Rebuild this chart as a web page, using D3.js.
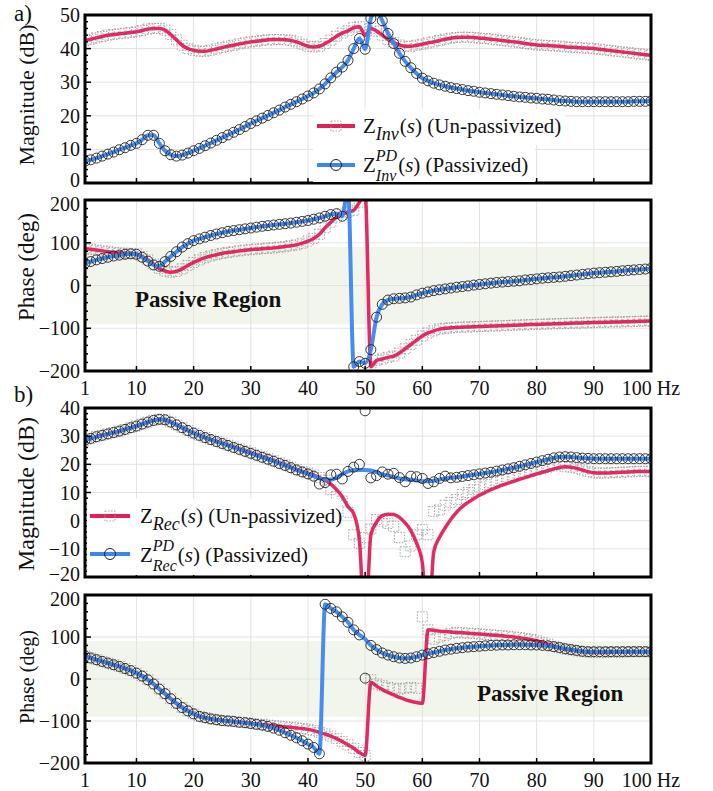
<!DOCTYPE html>
<html>
<head>
<meta charset="utf-8">
<script src="https://cdn.jsdelivr.net/npm/d3@7"></script>
<style>
  body { margin: 0; background: #fff; }
  text { fill: #111; }
</style>
</head>
<body>
<svg id="chart" width="713" height="791"></svg>
<script>
// frequency grid (Hz) and axis ticks
const freqs = d3.range(1, 101);
const xTicks = [1, 10, 20, 30, 40, 50, 60, 70, 80, 90, 100];
const xTickLabels = ["1", "10", "20", "30", "40", "50", "60", "70", "80", "90", "100 Hz"];
const magTicksA = [0, 10, 20, 30, 40, 50];
const magTicksB = [-20, -10, 0, 10, 20, 30, 40];
const phaseTicks = [-200, -100, 0, 100, 200];

// a) inverter impedance, magnitude (dB)
const magRedA = [42.4,42.8,43.2,43.6,44,44.2,44.4,44.6,44.8,45,
  45.4,45.8,46,46,45.5,44.2,42.6,41,40,39.5,
  39.2,39.2,39.5,39.9,40.3,40.7,41,41.4,41.7,42,
  42.2,42.4,42.6,42.7,42.7,42.6,42.4,42,41.3,40.7,
  40.5,40.7,41.5,42.5,43.7,44.6,45.3,46.2,46.5,44,
  46,45.2,44,42.7,41.8,41.1,40.7,40.7,41,41.3,
  41.7,42,42.4,42.8,43.1,43.3,43.4,43.4,43.3,43.1,
  43,42.8,42.6,42.4,42.2,42,41.8,41.5,41.3,41.1,
  41,40.9,40.8,40.7,40.5,40.4,40.3,40.2,40.1,40,
  39.8,39.6,39.4,39.2,39,38.8,38.6,38.4,38.2,38];
const magBlueA = [6.5,6.9,7.4,8,8.6,9.2,9.9,10.5,11.2,11.8,
  12.9,14.2,14.2,11.8,9.6,8.4,8,8.3,8.9,9.6,
  10.3,11.1,11.9,12.7,13.5,14.3,15.1,15.9,16.8,17.7,
  18.5,19.3,20.1,20.9,21.7,22.6,23.4,24.2,25,25.9,
  26.8,28,29.5,31.3,33,34.5,36.5,40,43,39.8,
  49,51.5,48.3,44.5,41.5,38.6,36.2,34.3,32.6,31.2,
  30.4,29.7,29.2,28.8,28.4,28.1,27.8,27.5,27.3,27,
  26.8,26.6,26.4,26.2,26,25.8,25.6,25.5,25.3,25.2,
  25,24.9,24.7,24.5,24.4,24.3,24.2,24.2,24.2,24.2,
  24.2,24.2,24.2,24.2,24.2,24.2,24.3,24.3,24.3,24.4];

// a) inverter impedance, phase (deg)
const phRedA = [86,85,83,81,79,77,76,75.5,75,74,
  68,60,50,40,34,31,33,39,47,54,
  60,65,69,72,75,77,79,81,82.5,84,
  85,86,87,88,89.5,91,93,95,99,104,
  110,120,135,148,160,167,172,176,195,215,
  -190,-175,-172,-168,-165,-158,-148,-138,-128,-118,
  -111,-106,-102,-100,-99,-98,-97.5,-97,-96.5,-96,
  -95.5,-95,-94.5,-94,-93.5,-93,-92.5,-92,-91.5,-91,
  -90.5,-90,-89.6,-89.2,-88.8,-88.4,-88,-87.6,-87.2,-86.8,
  -86.4,-86,-85.6,-85.3,-85,-84.6,-84.2,-83.8,-83.4,-83];
const phBlueA = [52,56,60,63,66,69,71,73,74,73,
  66,57,48,45,56,68,79,90,98,105,
  109,113,117,120.5,123.5,126.5,128.5,130.5,132.5,134.5,
  136.5,138.5,140,141.5,143,144.5,146,148,150,152,
  155,158,162,166,168,162,230,-190,-178,-182,
  -150,-74,-44,-34,-31,-30,-29,-27,-22,-18,
  -15,-12,-10,-8,-6,-4,-2.5,-1,1,2.5,
  4,5.5,7,8,9,10,11,13,14,15.5,
  17,18,19,20,21.5,23,24.5,26,27.5,29,
  30,31,32,33,34.5,35.5,36.5,37.5,38.5,40];

// b) rectifier impedance, magnitude (dB)
const magRedB = [28.6,29.2,29.8,30.3,30.8,31.3,31.8,32.4,33,33.6,
  34.3,35,35.6,36,35.8,35,34,33,32,31.1,
  30.3,29.5,28.8,28.2,27.5,26.8,26.2,25.5,24.8,24.1,
  23.4,22.7,22,21.3,20.5,19.8,19,18.2,17.5,16.9,
  16.2,15.3,14.4,13,11,8.5,5,2.5,-7,-40,
  -5,-0.5,1.8,2.3,2.2,1.2,-0.8,-3.5,-8,-15,
  -40,-11,-6,-2.5,0.5,3,5,6.5,7.8,9,
  10,11,11.8,12.6,13.3,14,14.7,15.3,16,16.6,
  17.2,17.8,18.4,18.9,19.1,19,18.6,18,17.4,17,
  16.9,16.9,17,17.1,17.2,17.3,17.4,17.5,17.5,17.5];
const magBlueB = [28.6,29.2,29.8,30.3,30.8,31.3,31.8,32.4,33,33.6,
  34.3,35,35.6,36,35.8,35,34,33,32,31.1,
  30.3,29.5,28.8,28.1,27.4,26.7,26,25.3,24.6,23.9,
  23.2,22.5,21.8,21.1,20.3,19.6,18.8,18,17.3,16.6,
  15.8,15,14.5,14.5,15.3,16.5,17.5,18,18,18,
  17.8,17.2,16.5,16,15.5,15,14.7,14.5,14.3,14,
  14,14.2,14.6,15,15.2,15.4,15.7,16,16.3,16.6,
  16.9,17.2,17.6,18,18.4,18.8,19.3,19.8,20.3,20.8,
  21.3,21.8,22.3,22.6,22.7,22.6,22.4,22.2,22.1,22,
  22,22,22,22,22,22,22,22,22,22];
// measured points that leave the fitted curves, [Hz, value]
const sqFixMagB = [[44,11],[45,8.6],[46,7],[47,3],[48,-5],[49,-8],[50,-6],[51,-3],[52,0.4],[53,-0.2],
  [54,-1],[55,-2],[56,-6],[57,-11],[58,-9],[59,-5],[60,-3.2],[61,-5],[62,3.3],[63,3.8],[64,5.5],
  [65,6.5],[66,7.5],[67,9.3],[68,10],[69,11],[70,12],[71,12.8],[72,13.5],[73,14.2],[74,14.8],
  [75,15.4],[76,16],[77,16.5],[78,17],[79,17.5],[80,18],[81,18.5],[82,19],[83,19.5],[84,20]];
const circFixMagB = [[42,13],[43,13.5],[44,16.3],[45,16.5],[46,14.8],[47,17.5],[48,19],[49,20],
  [50,39],[51,15.2],[52,16],[53,17.3],[54,16.5],[55,16.8],[56,15.3],[57,13.8],[58,15.8],
  [59,15.6],[60,15],[61,13.2],[62,13.8],[63,15],[64,15.8]];

// b) rectifier impedance, phase (deg)
const phRedB = [55,50,46,42,38,34,30,25,20,14,
  7,-2,-12,-24,-35,-47,-58,-68,-76,-83,
  -89,-92,-95,-97,-99,-100,-101.5,-103,-104,-105.5,
  -107,-108.5,-110,-111,-112.5,-114,-115,-116.5,-118,-120,
  -123,-127,-131,-136,-142,-149,-157,-165,-175,-182,
  -8,-17,-25,-32,-38,-44,-49,-53,-56,-58,
  117,116,114,113,112,111,110,109,108,107,
  106,105,104,103,101.5,100,98.5,96.5,94,91,
  87,83,78,74,71,69,67,65,64,63,
  63,63,64,64,64,65,65,65,65,65];
const phBlueB = [55,50,46,42,38,34,30,25,20,14,
  7,-2,-12,-24,-35,-47,-58,-68,-76,-83,
  -89,-92,-95,-97,-99,-100,-101,-103,-104,-106,
  -108,-110,-113,-117,-122,-128,-134,-140,-147,-155,
  -163,-178,178,168,160,148,135,117,105,95,
  80,70,62,57,53,50,49,50,53,57,
  60,63,66,69,71,73,74.5,76,77,78,
  79,80,80.5,81,81,81.5,81.5,81.5,81,81,
  80,79,77,75,72,70,68,66,65,65,
  65,65,65,65,65,65,65,65,65,65];
const sqFixPhB = [[51,-2],[52,-12],[53,-16],[54,-20],[55,-22],[56,-24],[57,-22],[58,-20],[59,-22],
  [60,148],[62,95],[63,100],[64,104],[65,108]];
const circFixPhB = [[50,2]];

const RED = "#e01f5b", BLUE = "#3d86ee";

const svg = d3.select("#chart").attr("font-family", '"Liberation Serif", "Times New Roman", serif');
const x = d3.scaleLinear().domain([1, 100]).range([85, 651]);

function withFixes(base, fixes) {
  const m = base.slice();
  fixes.forEach(([f, v]) => { m[f - 1] = v; });
  return m;
}

// nudge: top label pushed down / bottom label pushed up where panels touch
const panels = [
  {top: 15, bottom: 183, dom: [0, 50], ticks: magTicksA, minor: 2, title: "Magnitude (dB)", titleY: 95, titleSize: 22,
   red: magRedA, blue: magBlueA, sqFix: [], circFix: [], passive: false, xLabels: false, nudgeTop: 0, nudgeBottom: -3},
  {top: 200, bottom: 371, dom: [-200, 200], ticks: phaseTicks, minor: 20, title: "Phase (deg)", titleY: 267, titleSize: 23,
   red: phRedA, blue: phBlueA, sqFix: [], circFix: [], passive: true, xLabels: true, nudgeTop: 4, nudgeBottom: 0},
  {top: 408, bottom: 577, dom: [-20, 40], ticks: magTicksB, minor: 2, title: "Magnitude (dB)", titleY: 494, titleSize: 24,
   red: magRedB, blue: magBlueB, sqFix: sqFixMagB, circFix: circFixMagB, passive: false, xLabels: false, nudgeTop: 0, nudgeBottom: -3},
  {top: 595, bottom: 763, dom: [-200, 200], ticks: phaseTicks, minor: 20, title: "Phase (deg)", titleY: 677, titleSize: 20,
   red: phRedB, blue: phBlueB, sqFix: sqFixPhB, circFix: circFixPhB, passive: true, xLabels: true, nudgeTop: 4, nudgeBottom: 0}
];

const fmt = v => (v < 0 ? "\u2212" + Math.abs(v) : String(v));

panels.forEach((p, i) => {
  const y = d3.scaleLinear().domain(p.dom).range([p.bottom, p.top]);
  const g = svg.append("g");
  const clipId = "clip" + i;
  svg.append("clipPath").attr("id", clipId).append("rect")
    .attr("x", 85).attr("y", p.top).attr("width", 566).attr("height", p.bottom - p.top);
  const inner = g.append("g").attr("clip-path", `url(#${clipId})`);

  if (p.passive) {
    inner.append("rect").attr("x", 85).attr("width", 566)
      .attr("y", y(90)).attr("height", y(-90) - y(90)).attr("fill", "#f2f5ec");
  }

  // grid
  inner.selectAll(".vg").data(xTicks.slice(1, -1)).join("line")
    .attr("x1", d => x(d)).attr("x2", d => x(d)).attr("y1", p.top).attr("y2", p.bottom)
    .attr("stroke", "#e2e2e2").attr("stroke-width", 1);
  inner.selectAll(".hg").data(p.ticks).join("line")
    .attr("x1", 85).attr("x2", 651).attr("y1", d => y(d)).attr("y2", d => y(d))
    .attr("stroke", "#e2e2e2").attr("stroke-width", 1);

  const line = d3.line().x((d, j) => x(freqs[j])).y(d => y(d)).curve(d3.curveMonotoneX);

  // un-passivized: dotted squares + red curve
  const sq = withFixes(p.red, p.sqFix);
  inner.append("g").selectAll("rect").data(sq).join("rect")
    .attr("x", (d, j) => x(freqs[j]) - 5).attr("y", d => y(d) - 5)
    .attr("width", 10).attr("height", 10)
    .attr("fill", "none").attr("stroke", "#9a9a9a").attr("stroke-width", 0.9)
    .attr("stroke-dasharray", "1.5,1.5");
  inner.append("path").datum(p.red).attr("d", line)
    .attr("fill", "none").attr("stroke", RED).attr("stroke-width", 3.5).attr("opacity", 0.95);

  // passivized: blue curve + circles
  inner.append("path").datum(p.blue).attr("d", line)
    .attr("fill", "none").attr("stroke", BLUE).attr("stroke-width", 4).attr("opacity", 0.95);
  const circ = withFixes(p.blue, p.circFix);
  inner.append("g").selectAll("circle").data(circ).join("circle")
    .attr("cx", (d, j) => x(freqs[j])).attr("cy", d => y(d)).attr("r", 5)
    .attr("fill", "none").attr("stroke", "#222").attr("stroke-width", 0.9);

  // frame
  g.append("rect").attr("x", 85).attr("y", p.top).attr("width", 566).attr("height", p.bottom - p.top)
    .attr("fill", "none").attr("stroke", "#000").attr("stroke-width", 3);

  // inner ticks, left side
  const minorVals = d3.range(p.dom[0], p.dom[1] + 0.001, p.minor);
  g.selectAll(".mt").data(minorVals).join("line")
    .attr("x1", 85).attr("x2", d => 85 + (p.ticks.includes(d) ? 6 : 3))
    .attr("y1", d => y(d)).attr("y2", d => y(d))
    .attr("stroke", "#000").attr("stroke-width", 1.5);
  // inner ticks, bottom
  g.selectAll(".bt").data(xTicks).join("line")
    .attr("x1", d => x(d)).attr("x2", d => x(d)).attr("y1", p.bottom).attr("y2", p.bottom - 5)
    .attr("stroke", "#000").attr("stroke-width", 1.5);

  // y tick labels
  const last = p.ticks.length - 1;
  g.selectAll(".yl").data(p.ticks).join("text")
    .attr("x", 80)
    .attr("y", (d, j) => y(d) + (j === 0 ? p.nudgeBottom : 0) + (j === last ? p.nudgeTop : 0))
    .attr("dy", "0.35em")
    .attr("text-anchor", "end").attr("font-size", 20).text(fmt);

  // x tick labels
  if (p.xLabels) {
    g.selectAll(".xl").data(xTicks).join("text")
      .attr("x", d => x(d)).attr("y", p.bottom + 24)
      .attr("text-anchor", "middle").attr("font-size", 20)
      .text((d, j) => xTickLabels[j]);
  }

  // y title
  g.append("text").attr("transform", `translate(34,${p.titleY}) rotate(-90)`)
    .attr("text-anchor", "middle").attr("font-size", p.titleSize).text(p.title);
});

// panel letters
svg.append("text").attr("x", 14).attr("y", 21).attr("font-size", 23).text("a)");
svg.append("text").attr("x", 14).attr("y", 402).attr("font-size", 23).text("b)");

// passive region labels
svg.append("text").attr("x", 135).attr("y", 307).attr("font-size", 23).attr("font-weight", "bold").text("Passive Region");
svg.append("text").attr("x", 477).attr("y", 701).attr("font-size", 23).attr("font-weight", "bold").text("Passive Region");

// legends
const legendEntries = [
  {bx: 313, by: 109, bw: 252, bh: 36, lx0: 317, lx1: 355, ly: 126, tx: 363, base: 133, sub: "Inv", sup: null, label: " (Un-passivized)", color: RED, marker: "sq"},
  {bx: 313, by: 145, bw: 222, bh: 37, lx0: 317, lx1: 355, ly: 165, tx: 363, base: 172, sub: "Inv", sup: "PD", label: " (Passivized)", color: BLUE, marker: "circ"},
  {bx: 87, by: 499, bw: 253, bh: 36, lx0: 90, lx1: 130, ly: 516, tx: 140, base: 523, sub: "Rec", sup: null, label: " (Un-passivized)", color: RED, marker: "sq"},
  {bx: 87, by: 535, bw: 223, bh: 40, lx0: 90, lx1: 130, ly: 554, tx: 140, base: 562, sub: "Rec", sup: "PD", label: " (Passivized)", color: BLUE, marker: "circ"}
];

legendEntries.forEach(e => {
  const g = svg.append("g");
  g.append("rect").attr("x", e.bx).attr("y", e.by).attr("width", e.bw).attr("height", e.bh).attr("fill", "#fff");
  g.append("line").attr("x1", e.lx0).attr("x2", e.lx1).attr("y1", e.ly).attr("y2", e.ly)
    .attr("stroke", e.color).attr("stroke-width", 4);
  const cx = (e.lx0 + e.lx1) / 2;
  if (e.marker === "sq") {
    g.append("rect").attr("x", cx - 5).attr("y", e.ly - 5).attr("width", 10).attr("height", 10)
      .attr("fill", "none").attr("stroke", "#9a9a9a").attr("stroke-width", 0.9).attr("stroke-dasharray", "1.5,1.5");
  } else {
    g.append("circle").attr("cx", cx).attr("cy", e.ly).attr("r", 5.5)
      .attr("fill", "none").attr("stroke", "#222").attr("stroke-width", 1);
  }
  const z = g.append("text").attr("x", e.tx).attr("y", e.base).attr("font-size", 21).text("Z");
  const zw = z.node().getComputedTextLength();
  const subSize = e.sup ? 16 : 18;
  const sub = g.append("text").attr("x", e.tx + zw).attr("y", e.base + (e.sup ? 9 : 7))
    .attr("font-size", subSize).attr("font-style", "italic").text(e.sub);
  let sw = sub.node().getComputedTextLength();
  if (e.sup) {
    const sup = g.append("text").attr("x", e.tx + zw).attr("y", e.base - 11)
      .attr("font-size", 16).attr("font-style", "italic").text(e.sup);
    sw = Math.max(sw, sup.node().getComputedTextLength());
  }
  const rest = g.append("text").attr("x", e.tx + zw + sw + 1).attr("y", e.base).attr("font-size", 21);
  rest.append("tspan").text("(");
  rest.append("tspan").attr("font-style", "italic").text("s");
  rest.append("tspan").text(")" + e.label);
});
</script>
</body>
</html>
